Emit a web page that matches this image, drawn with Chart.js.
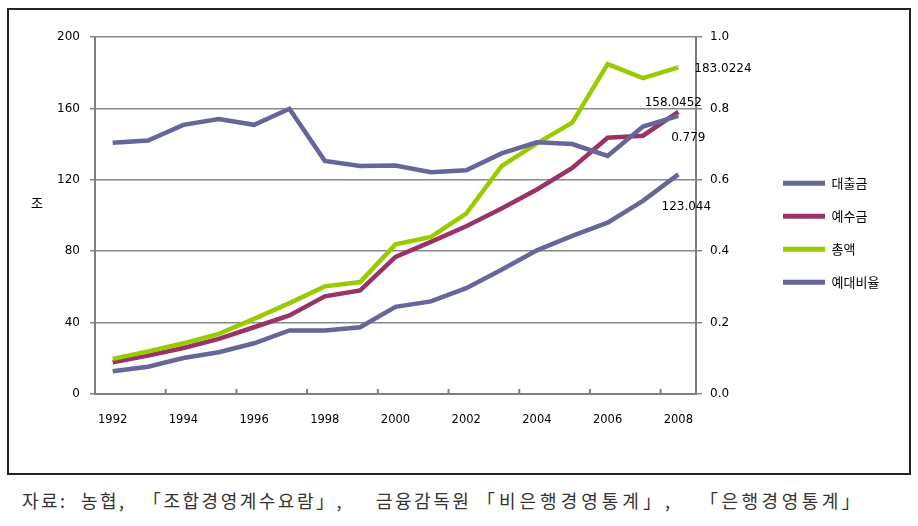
<!DOCTYPE html>
<html>
<head>
<meta charset="utf-8">
<script src="https://cdn.jsdelivr.net/npm/chart.js@4"></script>
<style>
    body { margin: 0; background: #fff; }
    #wrap { position: relative; width: 918px; height: 526px; }
    #frame { position: absolute; left: 7px; top: 8px; width: 904px; height: 467px; box-sizing: border-box; border: 2px solid #222; }
    #chart { position: absolute; left: 0; top: 0; }
    #source { position: absolute; left: 0; top: 487px; width: 918px; height: 30px; font: 18px "Noto Sans CJK KR", sans-serif; letter-spacing: 2.5px; color: #333; white-space: nowrap; }
    #source span { position: absolute; top: 0; }
</style>
</head>
<body>
<div id="wrap">
    <div id="frame"></div>
    <canvas id="chart" width="918" height="480"></canvas>
    <div id="source"><span style="left:22px">자료:</span> <span style="left:81px">농협,</span> <span style="left:143px">「조합경영계수요람」,</span> <span style="left:376px">금융감독원</span><span style="left:477px; letter-spacing:4px">「비은행경영통계」,</span> <span style="left:700px; letter-spacing:3.5px">「은행경영통계」</span></div>
</div>
<script>
const years = ['1992', '1993', '1994', '1995', '1996', '1997', '1998', '1999', '2000',
    '2001', '2002', '2003', '2004', '2005', '2006', '2007', '2008'];
const loans = [12.7, 15.3, 20.2, 23.4, 28.4, 35.6, 35.6, 37.4, 48.8, 51.9, 59.3, 69.6, 80.5, 88.6, 96.0, 108.2, 123.044];
const deposits = [17.8, 21.5, 25.8, 30.9, 37.4, 44.0, 54.7, 58.0, 76.8, 85.2, 94.0, 103.9, 114.6, 126.7, 143.6, 144.7, 158.0452];
const totals = [19.7, 23.9, 28.4, 33.7, 42.1, 50.9, 60.3, 62.7, 83.8, 88.0, 101.1, 127.7, 140.4, 152.0, 184.8, 177.0, 183.0224];
const ratio = [0.704, 0.71, 0.754, 0.77, 0.754, 0.799, 0.653, 0.639, 0.640, 0.621, 0.627, 0.674, 0.705, 0.70, 0.667, 0.749, 0.779];
const leftTicks = [0, 40, 80, 120, 160, 200];
const rightTicks = [0, 0.2, 0.4, 0.6, 0.8, 1.0];

const purple = '#666699';
const maroon = '#993366';
const green = '#99cc00';
const gridGray = '#888888';
const axisGray = '#7f7f7f';

// inward tick marks on the x axis, every second category boundary
const xTickMarks = {
    id: 'xTickMarks',
    afterDraw(chart) {
        const x = chart.scales.x;
        const ctx = chart.ctx;
        ctx.save();
        ctx.strokeStyle = axisGray;
        ctx.lineWidth = 2;
        for (let i = 2; i < years.length; i += 2) {
            const px = (x.getPixelForValue(i) + x.getPixelForValue(i - 1)) / 2;
            ctx.beginPath();
            ctx.moveTo(px, x.top - 5);
            ctx.lineTo(px, x.top);
            ctx.stroke();
        }
        ctx.restore();
    }
};

// unit label and the end-of-series value labels
const labels = {
    id: 'labels',
    afterDatasetsDraw(chart) {
        const ctx = chart.ctx;
        const area = chart.chartArea;
        ctx.save();
        ctx.fillStyle = '#000';
        ctx.font = '13px "Noto Sans CJK KR", sans-serif';
        ctx.textAlign = 'center';
        ctx.textBaseline = 'middle';
        ctx.fillText('조', 37, (area.top + area.bottom) / 2 - 12);

        const spots = [
            { ds: 2, dx: 16, dy: 2, align: 'left' },
            { ds: 1, dx: -5, dy: -9, align: 'center' },
            { ds: 3, dx: 10, dy: 22, align: 'center' },
            { ds: 0, dx: 8, dy: 33, align: 'center' }
        ];
        ctx.font = '12px "DejaVu Sans", sans-serif';
        spots.forEach(s => {
            const meta = chart.getDatasetMeta(s.ds);
            const data = chart.data.datasets[s.ds].data;
            const pt = meta.data[data.length - 1];
            ctx.textAlign = s.align;
            ctx.fillText(String(data[data.length - 1]), pt.x + s.dx, pt.y + s.dy);
        });
        ctx.restore();
    }
};

function series(label, data, color, axis, order) {
    return {
        label: label,
        data: data,
        borderColor: color,
        backgroundColor: color,
        borderWidth: 4.5,
        pointRadius: 0,
        tension: 0,
        yAxisID: axis,
        order: order
    };
}

new Chart(document.getElementById('chart'), {
    type: 'line',
    data: {
        labels: years,
        datasets: [
            series('대출금', loans, purple, 'y', 4),
            series('예수금', deposits, maroon, 'y', 3),
            series('총액', totals, green, 'y', 2),
            series('예대비율', ratio, purple, 'y1', 1)
        ]
    },
    options: {
        responsive: false,
        animation: false,
        layout: { padding: { left: 55, right: 35, top: 37, bottom: 46 } },
        plugins: {
            tooltip: { enabled: false },
            legend: {
                position: 'right',
                fullSize: false,
                maxWidth: 120,
                title: { display: true, text: '', padding: 10, font: { size: 12 } },
                labels: {
                    boxWidth: 42,
                    boxHeight: 5,
                    padding: 20,
                    color: '#000',
                    font: { family: '"Noto Sans CJK KR", sans-serif', size: 13 },
                    generateLabels(chart) {
                        const items = Chart.defaults.plugins.legend.labels.generateLabels(chart);
                        items.forEach(it => { it.lineWidth = 0; it.fillStyle = it.strokeStyle; });
                        return items.sort((a, b) => a.datasetIndex - b.datasetIndex);
                    }
                }
            }
        },
        scales: {
            x: {
                offset: true,
                grid: { display: false },
                border: { display: true, color: axisGray, width: 2 },
                ticks: {
                    color: '#000',
                    padding: 11,
                    maxRotation: 0,
                    autoSkip: false,
                    font: { family: '"DejaVu Sans", sans-serif', size: 11.5 },
                    callback(v, i) { return i % 2 === 0 ? years[i] : ''; }
                },
                afterFit(s) { s.height = 40; }
            },
            y: {
                position: 'left',
                min: 0,
                max: 200,
                afterBuildTicks(s) { s.ticks = leftTicks.map(v => ({ value: v })); },
                grid: { color: gridGray, lineWidth: 1.5, tickLength: 5 },
                border: { display: true, color: axisGray, width: 2 },
                ticks: {
                    color: '#000',
                    padding: 10,
                    font: { family: '"DejaVu Sans", sans-serif', size: 12 }
                },
                afterFit(s) { s.width = 40; }
            },
            y1: {
                position: 'right',
                min: 0,
                max: 1,
                afterBuildTicks(s) { s.ticks = rightTicks.map(v => ({ value: v })); },
                grid: { drawOnChartArea: false, color: gridGray, lineWidth: 1.5, tickLength: 6 },
                border: { display: true, color: axisGray, width: 2 },
                ticks: {
                    color: '#000',
                    padding: 8,
                    font: { family: '"DejaVu Sans", sans-serif', size: 12 },
                    callback(v) { return v.toFixed(1); }
                },
                afterFit(s) { s.width = 67; }
            }
        }
    },
    plugins: [xTickMarks, labels]
});
</script>
</body>
</html>
